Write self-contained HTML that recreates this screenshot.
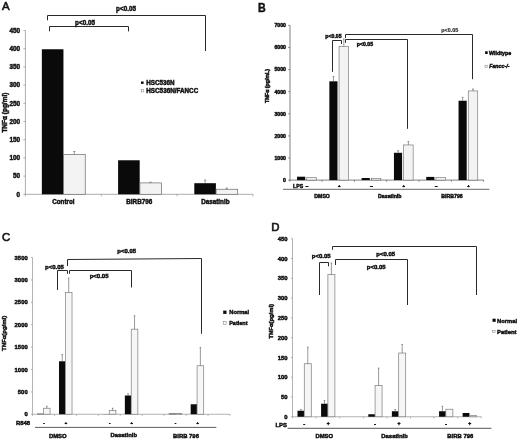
<!DOCTYPE html>
<html><head><meta charset="utf-8"><title>Figure</title>
<style>
html,body{margin:0;padding:0;background:#fff;}
svg{display:block;}
text{font-family:"Liberation Sans",Arial,sans-serif;stroke:#111;stroke-width:0.45px;}
</style></head><body>
<svg width="520" height="440" viewBox="0 0 520 440">
<rect x="0" y="0" width="520" height="440" fill="#fff"/>
<text x="2.00" y="10.30" font-size="11.4" text-anchor="start" font-weight="normal" style="stroke-width:0.6px" fill="#111">A</text>
<line x1="25.40" y1="30.50" x2="25.40" y2="194.30" stroke="#999999" stroke-width="0.8"/>
<line x1="23.40" y1="194.30" x2="25.40" y2="194.30" stroke="#999999" stroke-width="0.8"/>
<text x="20.10" y="196.50" font-size="6.3" text-anchor="end" font-weight="bold" textLength="3.5" lengthAdjust="spacingAndGlyphs" fill="#111">0</text>
<line x1="23.40" y1="176.10" x2="25.40" y2="176.10" stroke="#999999" stroke-width="0.8"/>
<text x="20.10" y="178.30" font-size="6.3" text-anchor="end" font-weight="bold" textLength="7.1" lengthAdjust="spacingAndGlyphs" fill="#111">50</text>
<line x1="23.40" y1="157.90" x2="25.40" y2="157.90" stroke="#999999" stroke-width="0.8"/>
<text x="20.10" y="160.10" font-size="6.3" text-anchor="end" font-weight="bold" textLength="10.7" lengthAdjust="spacingAndGlyphs" fill="#111">100</text>
<line x1="23.40" y1="139.70" x2="25.40" y2="139.70" stroke="#999999" stroke-width="0.8"/>
<text x="20.10" y="141.90" font-size="6.3" text-anchor="end" font-weight="bold" textLength="10.7" lengthAdjust="spacingAndGlyphs" fill="#111">150</text>
<line x1="23.40" y1="121.50" x2="25.40" y2="121.50" stroke="#999999" stroke-width="0.8"/>
<text x="20.10" y="123.70" font-size="6.3" text-anchor="end" font-weight="bold" textLength="10.7" lengthAdjust="spacingAndGlyphs" fill="#111">200</text>
<line x1="23.40" y1="103.30" x2="25.40" y2="103.30" stroke="#999999" stroke-width="0.8"/>
<text x="20.10" y="105.50" font-size="6.3" text-anchor="end" font-weight="bold" textLength="10.7" lengthAdjust="spacingAndGlyphs" fill="#111">250</text>
<line x1="23.40" y1="85.10" x2="25.40" y2="85.10" stroke="#999999" stroke-width="0.8"/>
<text x="20.10" y="87.30" font-size="6.3" text-anchor="end" font-weight="bold" textLength="10.7" lengthAdjust="spacingAndGlyphs" fill="#111">300</text>
<line x1="23.40" y1="66.90" x2="25.40" y2="66.90" stroke="#999999" stroke-width="0.8"/>
<text x="20.10" y="69.10" font-size="6.3" text-anchor="end" font-weight="bold" textLength="10.7" lengthAdjust="spacingAndGlyphs" fill="#111">350</text>
<line x1="23.40" y1="48.70" x2="25.40" y2="48.70" stroke="#999999" stroke-width="0.8"/>
<text x="20.10" y="50.90" font-size="6.3" text-anchor="end" font-weight="bold" textLength="10.7" lengthAdjust="spacingAndGlyphs" fill="#111">400</text>
<line x1="23.40" y1="30.50" x2="25.40" y2="30.50" stroke="#999999" stroke-width="0.8"/>
<text x="20.10" y="32.70" font-size="6.3" text-anchor="end" font-weight="bold" textLength="10.7" lengthAdjust="spacingAndGlyphs" fill="#111">450</text>
<line x1="25.40" y1="194.30" x2="253.00" y2="194.30" stroke="#999999" stroke-width="0.8"/>
<line x1="25.40" y1="194.30" x2="25.40" y2="196.30" stroke="#999999" stroke-width="0.8"/>
<line x1="101.27" y1="194.30" x2="101.27" y2="196.30" stroke="#999999" stroke-width="0.8"/>
<line x1="177.13" y1="194.30" x2="177.13" y2="196.30" stroke="#999999" stroke-width="0.8"/>
<line x1="253.00" y1="194.30" x2="253.00" y2="196.30" stroke="#999999" stroke-width="0.8"/>
<rect x="41.85" y="49.25" width="21.60" height="145.05" fill="#0a0a0a"/>
<rect x="63.65" y="154.41" width="21.60" height="39.89" fill="#f3f3f3" stroke="#6a6a6a" stroke-width="0.7"/>
<line x1="74.25" y1="154.41" x2="74.25" y2="151.53" stroke="#555" stroke-width="0.6"/>
<line x1="73.05" y1="151.53" x2="75.45" y2="151.53" stroke="#555" stroke-width="0.6"/>
<text x="63.35" y="204.20" font-size="6.3" text-anchor="middle" font-weight="bold" fill="#111">Control</text>
<rect x="118.10" y="160.27" width="21.60" height="34.03" fill="#0a0a0a"/>
<rect x="139.90" y="182.91" width="21.60" height="11.39" fill="#f3f3f3" stroke="#6a6a6a" stroke-width="0.7"/>
<line x1="150.50" y1="182.91" x2="150.50" y2="182.29" stroke="#555" stroke-width="0.6"/>
<line x1="149.30" y1="182.29" x2="151.70" y2="182.29" stroke="#555" stroke-width="0.6"/>
<text x="139.25" y="204.20" font-size="6.3" text-anchor="middle" font-weight="bold" fill="#111">BIRB796</text>
<rect x="194.30" y="183.20" width="21.60" height="11.10" fill="#0a0a0a"/>
<line x1="205.10" y1="183.20" x2="205.10" y2="180.10" stroke="#555" stroke-width="0.6"/>
<line x1="203.90" y1="180.10" x2="206.30" y2="180.10" stroke="#555" stroke-width="0.6"/>
<rect x="216.10" y="189.24" width="21.60" height="5.06" fill="#f3f3f3" stroke="#6a6a6a" stroke-width="0.7"/>
<line x1="226.70" y1="189.24" x2="226.70" y2="188.11" stroke="#555" stroke-width="0.6"/>
<line x1="225.50" y1="188.11" x2="227.90" y2="188.11" stroke="#555" stroke-width="0.6"/>
<text x="215.40" y="204.20" font-size="6.3" text-anchor="middle" font-weight="bold" fill="#111">Dasatinib</text>
<path d="M47.50 20.30 L47.50 15.50 L205.50 15.50 L205.50 51.00" fill="none" stroke="#2a2a2a" stroke-width="1.0"/>
<path d="M49.50 31.30 L49.50 26.50 L128.50 26.50 L128.50 31.40" fill="none" stroke="#2a2a2a" stroke-width="1.0"/>
<text x="126.00" y="10.60" font-size="6.3" text-anchor="middle" font-weight="bold" fill="#111">p&lt;0.05</text>
<text x="85.00" y="24.50" font-size="6.3" text-anchor="middle" font-weight="bold" fill="#111">p&lt;0.05</text>
<rect x="141.00" y="81.50" width="2.60" height="2.40" fill="#0a0a0a"/>
<text x="146.30" y="84.60" font-size="6.3" text-anchor="start" font-weight="bold" textLength="28.3" lengthAdjust="spacingAndGlyphs" fill="#111">HSC536N</text>
<rect x="141.20" y="89.60" width="2.40" height="2.40" fill="#fff" stroke="#777" stroke-width="0.5"/>
<text x="146.30" y="92.60" font-size="6.3" text-anchor="start" font-weight="bold" textLength="51.9" lengthAdjust="spacingAndGlyphs" fill="#111">HSC536N/FANCC</text>
<text x="6.60" y="112.60" font-size="6.4" text-anchor="middle" font-weight="bold" transform="rotate(-90 6.60 112.60)" textLength="40" lengthAdjust="spacingAndGlyphs" fill="#111">TNFα (pg/ml)</text>
<text x="258.00" y="11.80" font-size="12.0" text-anchor="start" font-weight="bold" textLength="7.7" lengthAdjust="spacingAndGlyphs" fill="#111">B</text>
<line x1="290.00" y1="25.40" x2="290.00" y2="180.10" stroke="#606060" stroke-width="0.8"/>
<line x1="288.20" y1="180.10" x2="289.80" y2="180.10" stroke="#606060" stroke-width="0.8"/>
<text x="286.00" y="181.90" font-size="5.2" text-anchor="end" font-weight="bold" fill="#111">0</text>
<line x1="288.20" y1="158.00" x2="289.80" y2="158.00" stroke="#606060" stroke-width="0.8"/>
<text x="286.00" y="159.80" font-size="5.2" text-anchor="end" font-weight="bold" fill="#111">1000</text>
<line x1="288.20" y1="135.90" x2="289.80" y2="135.90" stroke="#606060" stroke-width="0.8"/>
<text x="286.00" y="137.70" font-size="5.2" text-anchor="end" font-weight="bold" fill="#111">2000</text>
<line x1="288.20" y1="113.80" x2="289.80" y2="113.80" stroke="#606060" stroke-width="0.8"/>
<text x="286.00" y="115.60" font-size="5.2" text-anchor="end" font-weight="bold" fill="#111">3000</text>
<line x1="288.20" y1="91.70" x2="289.80" y2="91.70" stroke="#606060" stroke-width="0.8"/>
<text x="286.00" y="93.50" font-size="5.2" text-anchor="end" font-weight="bold" fill="#111">4000</text>
<line x1="288.20" y1="69.60" x2="289.80" y2="69.60" stroke="#606060" stroke-width="0.8"/>
<text x="286.00" y="71.40" font-size="5.2" text-anchor="end" font-weight="bold" fill="#111">5000</text>
<line x1="288.20" y1="47.50" x2="289.80" y2="47.50" stroke="#606060" stroke-width="0.8"/>
<text x="286.00" y="49.30" font-size="5.2" text-anchor="end" font-weight="bold" fill="#111">6000</text>
<line x1="288.20" y1="25.40" x2="289.80" y2="25.40" stroke="#606060" stroke-width="0.8"/>
<text x="286.00" y="27.20" font-size="5.2" text-anchor="end" font-weight="bold" fill="#111">7000</text>
<line x1="289.80" y1="180.10" x2="483.60" y2="180.10" stroke="#606060" stroke-width="0.8"/>
<line x1="289.80" y1="180.10" x2="289.80" y2="181.70" stroke="#606060" stroke-width="0.8"/>
<line x1="322.10" y1="180.10" x2="322.10" y2="181.70" stroke="#606060" stroke-width="0.8"/>
<line x1="354.40" y1="180.10" x2="354.40" y2="181.70" stroke="#606060" stroke-width="0.8"/>
<line x1="386.70" y1="180.10" x2="386.70" y2="181.70" stroke="#606060" stroke-width="0.8"/>
<line x1="419.00" y1="180.10" x2="419.00" y2="181.70" stroke="#606060" stroke-width="0.8"/>
<line x1="451.30" y1="180.10" x2="451.30" y2="181.70" stroke="#606060" stroke-width="0.8"/>
<line x1="483.60" y1="180.10" x2="483.60" y2="181.70" stroke="#606060" stroke-width="0.8"/>
<rect x="297.05" y="176.70" width="8.15" height="3.40" fill="#0a0a0a"/>
<rect x="306.75" y="177.49" width="9.50" height="2.61" fill="#f3f3f3" stroke="#6a6a6a" stroke-width="0.6"/>
<text x="306.95" y="187.80" font-size="5.2" text-anchor="middle" font-weight="bold" fill="#111">–</text>
<rect x="329.35" y="81.31" width="8.15" height="98.79" fill="#0a0a0a"/>
<line x1="333.45" y1="81.31" x2="333.45" y2="76.61" stroke="#555" stroke-width="0.6"/>
<line x1="332.55" y1="76.61" x2="334.35" y2="76.61" stroke="#555" stroke-width="0.6"/>
<rect x="339.05" y="46.68" width="9.50" height="133.42" fill="#f3f3f3" stroke="#6a6a6a" stroke-width="0.6"/>
<line x1="343.80" y1="46.68" x2="343.80" y2="38.97" stroke="#555" stroke-width="0.6"/>
<line x1="342.90" y1="38.97" x2="344.70" y2="38.97" stroke="#555" stroke-width="0.6"/>
<text x="339.25" y="187.10" font-size="4.2" text-anchor="middle" font-weight="bold" fill="#111">+</text>
<rect x="361.65" y="178.00" width="8.15" height="2.10" fill="#0a0a0a"/>
<rect x="371.35" y="178.51" width="9.50" height="1.59" fill="#f3f3f3" stroke="#6a6a6a" stroke-width="0.6"/>
<text x="371.55" y="187.80" font-size="5.2" text-anchor="middle" font-weight="bold" fill="#111">–</text>
<rect x="393.95" y="152.78" width="8.15" height="27.32" fill="#0a0a0a"/>
<line x1="398.05" y1="152.78" x2="398.05" y2="150.68" stroke="#555" stroke-width="0.6"/>
<line x1="397.15" y1="150.68" x2="398.95" y2="150.68" stroke="#555" stroke-width="0.6"/>
<rect x="403.65" y="144.96" width="9.50" height="35.14" fill="#f3f3f3" stroke="#6a6a6a" stroke-width="0.6"/>
<line x1="408.40" y1="144.96" x2="408.40" y2="141.56" stroke="#555" stroke-width="0.6"/>
<line x1="407.50" y1="141.56" x2="409.30" y2="141.56" stroke="#555" stroke-width="0.6"/>
<text x="403.85" y="187.10" font-size="4.2" text-anchor="middle" font-weight="bold" fill="#111">+</text>
<rect x="426.25" y="176.90" width="8.15" height="3.20" fill="#0a0a0a"/>
<rect x="435.95" y="177.49" width="9.50" height="2.61" fill="#f3f3f3" stroke="#6a6a6a" stroke-width="0.6"/>
<text x="436.15" y="187.80" font-size="5.2" text-anchor="middle" font-weight="bold" fill="#111">–</text>
<rect x="458.55" y="100.74" width="8.15" height="79.36" fill="#0a0a0a"/>
<line x1="462.65" y1="100.74" x2="462.65" y2="97.34" stroke="#555" stroke-width="0.6"/>
<line x1="461.75" y1="97.34" x2="463.55" y2="97.34" stroke="#555" stroke-width="0.6"/>
<rect x="468.25" y="90.93" width="9.50" height="89.17" fill="#f3f3f3" stroke="#6a6a6a" stroke-width="0.6"/>
<line x1="473.00" y1="90.93" x2="473.00" y2="89.03" stroke="#555" stroke-width="0.6"/>
<line x1="472.10" y1="89.03" x2="473.90" y2="89.03" stroke="#555" stroke-width="0.6"/>
<text x="468.45" y="187.10" font-size="4.2" text-anchor="middle" font-weight="bold" fill="#111">+</text>
<text x="293.10" y="187.80" font-size="5.2" text-anchor="start" font-weight="bold" fill="#111">LPS</text>
<line x1="283.00" y1="189.30" x2="489.40" y2="189.30" stroke="#444" stroke-width="0.8"/>
<text x="322.10" y="197.90" font-size="5.2" text-anchor="middle" font-weight="bold" fill="#111">DMSO</text>
<text x="389.80" y="197.90" font-size="5.2" text-anchor="middle" font-weight="bold" fill="#111">Dasatinib</text>
<text x="452.00" y="197.90" font-size="5.2" text-anchor="middle" font-weight="bold" fill="#111">BIRB796</text>
<path d="M332.50 71.80 L332.50 40.50 L341.50 40.50 L341.50 44.00" fill="none" stroke="#2a2a2a" stroke-width="1.0"/>
<path d="M345.50 38.00 L345.50 34.50 L472.50 34.50 L472.50 79.20" fill="none" stroke="#2a2a2a" stroke-width="1.0"/>
<path d="M345.50 42.80 L345.50 39.50 L407.50 39.50 L407.50 128.80" fill="none" stroke="#2a2a2a" stroke-width="1.0"/>
<text x="333.50" y="37.60" font-size="5.2" text-anchor="middle" font-weight="bold" fill="#111">p&lt;0.05</text>
<text x="365.00" y="46.00" font-size="5.2" text-anchor="middle" font-weight="bold" fill="#111">p&lt;0.05</text>
<text x="449.70" y="32.30" font-size="5.2" text-anchor="middle" font-weight="bold" textLength="17" lengthAdjust="spacingAndGlyphs" style="stroke-width:0.15px" fill="#333">p&lt;0.05</text>
<rect x="485.10" y="51.30" width="2.60" height="2.70" fill="#0a0a0a"/>
<text x="489.00" y="54.90" font-size="5.2" text-anchor="start" font-weight="bold" textLength="22.1" lengthAdjust="spacingAndGlyphs" fill="#111">Wildtype</text>
<rect x="485.00" y="65.20" width="2.40" height="2.30" fill="#fff" stroke="#777" stroke-width="0.5"/>
<text x="489.20" y="67.70" font-size="5.2" text-anchor="start" font-weight="bold" font-style="italic" textLength="20.3" lengthAdjust="spacingAndGlyphs" fill="#111">Fancc-/-</text>
<text x="268.80" y="86.00" font-size="5.0" text-anchor="middle" font-weight="bold" transform="rotate(-90 268.80 86.00)" textLength="34" lengthAdjust="spacingAndGlyphs" fill="#111">TNFα (pg/mL)</text>
<text x="2.00" y="240.70" font-size="11.4" text-anchor="start" font-weight="normal" style="stroke-width:0.6px" fill="#111">C</text>
<line x1="32.50" y1="257.52" x2="32.50" y2="414.25" stroke="#a0a0a0" stroke-width="0.8"/>
<line x1="30.90" y1="414.25" x2="32.50" y2="414.25" stroke="#a0a0a0" stroke-width="0.8"/>
<text x="27.70" y="416.35" font-size="5.9" text-anchor="end" font-weight="bold" fill="#111">0</text>
<line x1="30.90" y1="391.86" x2="32.50" y2="391.86" stroke="#a0a0a0" stroke-width="0.8"/>
<text x="27.70" y="393.96" font-size="5.9" text-anchor="end" font-weight="bold" fill="#111">500</text>
<line x1="30.90" y1="369.47" x2="32.50" y2="369.47" stroke="#a0a0a0" stroke-width="0.8"/>
<text x="27.70" y="371.57" font-size="5.9" text-anchor="end" font-weight="bold" fill="#111">1000</text>
<line x1="30.90" y1="347.08" x2="32.50" y2="347.08" stroke="#a0a0a0" stroke-width="0.8"/>
<text x="27.70" y="349.18" font-size="5.9" text-anchor="end" font-weight="bold" fill="#111">1500</text>
<line x1="30.90" y1="324.69" x2="32.50" y2="324.69" stroke="#a0a0a0" stroke-width="0.8"/>
<text x="27.70" y="326.79" font-size="5.9" text-anchor="end" font-weight="bold" fill="#111">2000</text>
<line x1="30.90" y1="302.30" x2="32.50" y2="302.30" stroke="#a0a0a0" stroke-width="0.8"/>
<text x="27.70" y="304.40" font-size="5.9" text-anchor="end" font-weight="bold" fill="#111">2500</text>
<line x1="30.90" y1="279.91" x2="32.50" y2="279.91" stroke="#a0a0a0" stroke-width="0.8"/>
<text x="27.70" y="282.01" font-size="5.9" text-anchor="end" font-weight="bold" fill="#111">3000</text>
<line x1="30.90" y1="257.52" x2="32.50" y2="257.52" stroke="#a0a0a0" stroke-width="0.8"/>
<text x="27.70" y="259.62" font-size="5.9" text-anchor="end" font-weight="bold" fill="#111">3500</text>
<line x1="32.50" y1="414.25" x2="230.00" y2="414.25" stroke="#a0a0a0" stroke-width="0.8"/>
<line x1="32.50" y1="414.25" x2="32.50" y2="415.85" stroke="#a0a0a0" stroke-width="0.8"/>
<line x1="54.44" y1="414.25" x2="54.44" y2="415.85" stroke="#a0a0a0" stroke-width="0.8"/>
<line x1="76.39" y1="414.25" x2="76.39" y2="415.85" stroke="#a0a0a0" stroke-width="0.8"/>
<line x1="98.33" y1="414.25" x2="98.33" y2="415.85" stroke="#a0a0a0" stroke-width="0.8"/>
<line x1="120.28" y1="414.25" x2="120.28" y2="415.85" stroke="#a0a0a0" stroke-width="0.8"/>
<line x1="142.22" y1="414.25" x2="142.22" y2="415.85" stroke="#a0a0a0" stroke-width="0.8"/>
<line x1="164.17" y1="414.25" x2="164.17" y2="415.85" stroke="#a0a0a0" stroke-width="0.8"/>
<line x1="186.11" y1="414.25" x2="186.11" y2="415.85" stroke="#a0a0a0" stroke-width="0.8"/>
<line x1="208.06" y1="414.25" x2="208.06" y2="415.85" stroke="#a0a0a0" stroke-width="0.8"/>
<line x1="230.00" y1="414.25" x2="230.00" y2="415.85" stroke="#a0a0a0" stroke-width="0.8"/>
<rect x="37.07" y="413.71" width="6.40" height="0.54" fill="#0a0a0a"/>
<rect x="43.47" y="408.25" width="6.60" height="6.00" fill="#f6f6f6" stroke="#858585" stroke-width="0.75"/>
<line x1="46.77" y1="408.25" x2="46.77" y2="406.23" stroke="#555" stroke-width="0.6"/>
<line x1="45.97" y1="406.23" x2="47.57" y2="406.23" stroke="#555" stroke-width="0.6"/>
<text x="43.97" y="424.60" font-size="4.6" text-anchor="middle" font-weight="bold" fill="#111">-</text>
<rect x="59.02" y="361.28" width="6.40" height="52.97" fill="#0a0a0a"/>
<line x1="62.22" y1="361.28" x2="62.22" y2="354.51" stroke="#555" stroke-width="0.6"/>
<line x1="61.42" y1="354.51" x2="63.02" y2="354.51" stroke="#555" stroke-width="0.6"/>
<rect x="65.42" y="292.49" width="6.60" height="121.76" fill="#f6f6f6" stroke="#858585" stroke-width="0.75"/>
<line x1="68.72" y1="292.49" x2="68.72" y2="277.98" stroke="#555" stroke-width="0.6"/>
<line x1="67.92" y1="277.98" x2="69.52" y2="277.98" stroke="#555" stroke-width="0.6"/>
<text x="65.92" y="424.30" font-size="4.0" text-anchor="middle" font-weight="bold" fill="#111">+</text>
<rect x="102.91" y="414.12" width="6.40" height="0.13" fill="#0a0a0a"/>
<rect x="109.31" y="410.49" width="6.60" height="3.76" fill="#f6f6f6" stroke="#858585" stroke-width="0.75"/>
<line x1="112.61" y1="410.49" x2="112.61" y2="408.25" stroke="#555" stroke-width="0.6"/>
<line x1="111.81" y1="408.25" x2="113.41" y2="408.25" stroke="#555" stroke-width="0.6"/>
<text x="109.81" y="424.60" font-size="4.6" text-anchor="middle" font-weight="bold" fill="#111">-</text>
<rect x="124.85" y="395.49" width="6.40" height="18.76" fill="#0a0a0a"/>
<line x1="128.05" y1="395.49" x2="128.05" y2="393.74" stroke="#555" stroke-width="0.6"/>
<line x1="127.25" y1="393.74" x2="128.85" y2="393.74" stroke="#555" stroke-width="0.6"/>
<rect x="131.25" y="329.17" width="6.60" height="85.08" fill="#f6f6f6" stroke="#858585" stroke-width="0.75"/>
<line x1="134.55" y1="329.17" x2="134.55" y2="315.73" stroke="#555" stroke-width="0.6"/>
<line x1="133.75" y1="315.73" x2="135.35" y2="315.73" stroke="#555" stroke-width="0.6"/>
<text x="131.75" y="424.30" font-size="4.0" text-anchor="middle" font-weight="bold" fill="#111">+</text>
<rect x="168.74" y="413.58" width="6.40" height="0.67" fill="#0a0a0a"/>
<rect x="175.14" y="413.35" width="6.60" height="0.90" fill="#f6f6f6" stroke="#858585" stroke-width="0.75"/>
<text x="175.64" y="424.60" font-size="4.6" text-anchor="middle" font-weight="bold" fill="#111">-</text>
<rect x="190.68" y="404.26" width="6.40" height="9.99" fill="#0a0a0a"/>
<rect x="197.08" y="365.75" width="6.60" height="48.50" fill="#f6f6f6" stroke="#858585" stroke-width="0.75"/>
<line x1="200.38" y1="365.75" x2="200.38" y2="347.48" stroke="#555" stroke-width="0.6"/>
<line x1="199.58" y1="347.48" x2="201.18" y2="347.48" stroke="#555" stroke-width="0.6"/>
<text x="197.58" y="424.30" font-size="4.0" text-anchor="middle" font-weight="bold" fill="#111">+</text>
<text x="15.90" y="425.00" font-size="5.9" text-anchor="start" font-weight="bold" fill="#111">R848</text>
<line x1="35.00" y1="427.40" x2="216.30" y2="427.40" stroke="#333" stroke-width="0.8"/>
<text x="57.80" y="437.60" font-size="5.9" text-anchor="middle" font-weight="bold" fill="#111">DMSO</text>
<text x="123.80" y="437.40" font-size="5.9" text-anchor="middle" font-weight="bold" fill="#111">Dasatinib</text>
<text x="186.00" y="437.60" font-size="5.9" text-anchor="middle" font-weight="bold" fill="#111">BIRB 796</text>
<path d="M57.50 290.00 L57.50 270.50 L67.50 270.50 L67.50 273.80" fill="none" stroke="#2a2a2a" stroke-width="1.0"/>
<path d="M67.50 266.00 L67.50 259.50 L201.50 258.50 L201.50 333.80" fill="none" stroke="#2a2a2a" stroke-width="1.0"/>
<path d="M69.50 273.80 L69.50 270.50 L131.50 270.50 L131.50 287.50" fill="none" stroke="#2a2a2a" stroke-width="1.0"/>
<text x="54.50" y="268.60" font-size="6.0" text-anchor="middle" font-weight="bold" fill="#111">p&lt;0.05</text>
<text x="99.10" y="278.10" font-size="6.0" text-anchor="middle" font-weight="bold" fill="#111">p&lt;0.05</text>
<text x="126.80" y="253.10" font-size="6.0" text-anchor="middle" font-weight="bold" fill="#111">p&lt;0.05</text>
<rect x="223.20" y="310.60" width="3.30" height="3.30" fill="#0a0a0a"/>
<text x="229.20" y="313.90" font-size="6.0" text-anchor="start" font-weight="bold" textLength="20" lengthAdjust="spacingAndGlyphs" fill="#111">Normal</text>
<rect x="223.20" y="321.40" width="2.90" height="2.80" fill="#fff" stroke="#777" stroke-width="0.5"/>
<text x="229.20" y="324.70" font-size="6.0" text-anchor="start" font-weight="bold" textLength="18.4" lengthAdjust="spacingAndGlyphs" fill="#111">Patient</text>
<text x="6.40" y="333.40" font-size="5.9" text-anchor="middle" font-weight="bold" transform="rotate(-90 6.40 333.40)" textLength="35.2" lengthAdjust="spacingAndGlyphs" fill="#111">TNFα(pg/ml)</text>
<text x="271.30" y="231.10" font-size="11.4" text-anchor="start" font-weight="normal" style="stroke-width:0.6px" fill="#111">D</text>
<line x1="292.50" y1="238.73" x2="292.50" y2="416.75" stroke="#a0a0a0" stroke-width="0.8"/>
<line x1="290.90" y1="416.75" x2="292.50" y2="416.75" stroke="#a0a0a0" stroke-width="0.8"/>
<text x="287.60" y="418.85" font-size="5.9" text-anchor="end" font-weight="bold" fill="#111">0</text>
<line x1="290.90" y1="396.97" x2="292.50" y2="396.97" stroke="#a0a0a0" stroke-width="0.8"/>
<text x="287.60" y="399.07" font-size="5.9" text-anchor="end" font-weight="bold" fill="#111">50</text>
<line x1="290.90" y1="377.19" x2="292.50" y2="377.19" stroke="#a0a0a0" stroke-width="0.8"/>
<text x="287.60" y="379.29" font-size="5.9" text-anchor="end" font-weight="bold" fill="#111">100</text>
<line x1="290.90" y1="357.41" x2="292.50" y2="357.41" stroke="#a0a0a0" stroke-width="0.8"/>
<text x="287.60" y="359.51" font-size="5.9" text-anchor="end" font-weight="bold" fill="#111">150</text>
<line x1="290.90" y1="337.63" x2="292.50" y2="337.63" stroke="#a0a0a0" stroke-width="0.8"/>
<text x="287.60" y="339.73" font-size="5.9" text-anchor="end" font-weight="bold" fill="#111">200</text>
<line x1="290.90" y1="317.85" x2="292.50" y2="317.85" stroke="#a0a0a0" stroke-width="0.8"/>
<text x="287.60" y="319.95" font-size="5.9" text-anchor="end" font-weight="bold" fill="#111">250</text>
<line x1="290.90" y1="298.07" x2="292.50" y2="298.07" stroke="#a0a0a0" stroke-width="0.8"/>
<text x="287.60" y="300.17" font-size="5.9" text-anchor="end" font-weight="bold" fill="#111">300</text>
<line x1="290.90" y1="278.29" x2="292.50" y2="278.29" stroke="#a0a0a0" stroke-width="0.8"/>
<text x="287.60" y="280.39" font-size="5.9" text-anchor="end" font-weight="bold" fill="#111">350</text>
<line x1="290.90" y1="258.51" x2="292.50" y2="258.51" stroke="#a0a0a0" stroke-width="0.8"/>
<text x="287.60" y="260.61" font-size="5.9" text-anchor="end" font-weight="bold" fill="#111">400</text>
<line x1="290.90" y1="238.73" x2="292.50" y2="238.73" stroke="#a0a0a0" stroke-width="0.8"/>
<text x="287.60" y="240.83" font-size="5.9" text-anchor="end" font-weight="bold" fill="#111">450</text>
<line x1="292.50" y1="416.75" x2="481.25" y2="416.75" stroke="#a0a0a0" stroke-width="0.8"/>
<line x1="292.50" y1="416.75" x2="292.50" y2="418.35" stroke="#a0a0a0" stroke-width="0.8"/>
<line x1="316.09" y1="416.75" x2="316.09" y2="418.35" stroke="#a0a0a0" stroke-width="0.8"/>
<line x1="339.69" y1="416.75" x2="339.69" y2="418.35" stroke="#a0a0a0" stroke-width="0.8"/>
<line x1="363.28" y1="416.75" x2="363.28" y2="418.35" stroke="#a0a0a0" stroke-width="0.8"/>
<line x1="386.88" y1="416.75" x2="386.88" y2="418.35" stroke="#a0a0a0" stroke-width="0.8"/>
<line x1="410.47" y1="416.75" x2="410.47" y2="418.35" stroke="#a0a0a0" stroke-width="0.8"/>
<line x1="434.06" y1="416.75" x2="434.06" y2="418.35" stroke="#a0a0a0" stroke-width="0.8"/>
<line x1="457.66" y1="416.75" x2="457.66" y2="418.35" stroke="#a0a0a0" stroke-width="0.8"/>
<line x1="481.25" y1="416.75" x2="481.25" y2="418.35" stroke="#a0a0a0" stroke-width="0.8"/>
<rect x="297.50" y="410.74" width="6.80" height="6.01" fill="#0a0a0a"/>
<line x1="300.90" y1="410.74" x2="300.90" y2="409.51" stroke="#555" stroke-width="0.6"/>
<line x1="300.10" y1="409.51" x2="301.70" y2="409.51" stroke="#555" stroke-width="0.6"/>
<rect x="304.30" y="363.74" width="7.00" height="53.01" fill="#f6f6f6" stroke="#858585" stroke-width="0.75"/>
<line x1="307.80" y1="363.74" x2="307.80" y2="347.12" stroke="#555" stroke-width="0.6"/>
<line x1="307.00" y1="347.12" x2="308.60" y2="347.12" stroke="#555" stroke-width="0.6"/>
<text x="304.30" y="426.40" font-size="5.9" text-anchor="middle" font-weight="bold" fill="#111">-</text>
<rect x="321.09" y="403.73" width="6.80" height="13.02" fill="#0a0a0a"/>
<line x1="324.49" y1="403.73" x2="324.49" y2="400.53" stroke="#555" stroke-width="0.6"/>
<line x1="323.69" y1="400.53" x2="325.29" y2="400.53" stroke="#555" stroke-width="0.6"/>
<rect x="327.89" y="274.49" width="7.00" height="142.26" fill="#f6f6f6" stroke="#858585" stroke-width="0.75"/>
<line x1="331.39" y1="274.49" x2="331.39" y2="263.02" stroke="#555" stroke-width="0.6"/>
<line x1="330.59" y1="263.02" x2="332.19" y2="263.02" stroke="#555" stroke-width="0.6"/>
<text x="328.09" y="425.30" font-size="5.0" text-anchor="middle" font-weight="bold" fill="#111">+</text>
<rect x="368.28" y="414.26" width="6.80" height="2.49" fill="#0a0a0a"/>
<rect x="375.08" y="385.50" width="7.00" height="31.25" fill="#f6f6f6" stroke="#858585" stroke-width="0.75"/>
<line x1="378.58" y1="385.50" x2="378.58" y2="368.09" stroke="#555" stroke-width="0.6"/>
<line x1="377.78" y1="368.09" x2="379.38" y2="368.09" stroke="#555" stroke-width="0.6"/>
<text x="375.08" y="426.40" font-size="5.9" text-anchor="middle" font-weight="bold" fill="#111">-</text>
<rect x="391.87" y="411.25" width="6.80" height="5.50" fill="#0a0a0a"/>
<line x1="395.27" y1="411.25" x2="395.27" y2="409.51" stroke="#555" stroke-width="0.6"/>
<line x1="394.47" y1="409.51" x2="396.07" y2="409.51" stroke="#555" stroke-width="0.6"/>
<rect x="398.67" y="353.06" width="7.00" height="63.69" fill="#f6f6f6" stroke="#858585" stroke-width="0.75"/>
<line x1="402.17" y1="353.06" x2="402.17" y2="344.51" stroke="#555" stroke-width="0.6"/>
<line x1="401.37" y1="344.51" x2="402.97" y2="344.51" stroke="#555" stroke-width="0.6"/>
<text x="398.87" y="425.30" font-size="5.0" text-anchor="middle" font-weight="bold" fill="#111">+</text>
<rect x="439.06" y="411.25" width="6.80" height="5.50" fill="#0a0a0a"/>
<line x1="442.46" y1="411.25" x2="442.46" y2="406.27" stroke="#555" stroke-width="0.6"/>
<line x1="441.66" y1="406.27" x2="443.26" y2="406.27" stroke="#555" stroke-width="0.6"/>
<rect x="445.86" y="409.23" width="7.00" height="7.52" fill="#f6f6f6" stroke="#858585" stroke-width="0.75"/>
<text x="445.86" y="426.40" font-size="5.9" text-anchor="middle" font-weight="bold" fill="#111">-</text>
<rect x="462.65" y="412.99" width="6.80" height="3.76" fill="#0a0a0a"/>
<rect x="469.45" y="415.48" width="7.00" height="1.27" fill="#f6f6f6" stroke="#858585" stroke-width="0.75"/>
<text x="469.65" y="425.30" font-size="5.0" text-anchor="middle" font-weight="bold" fill="#111">+</text>
<text x="275.50" y="427.20" font-size="5.9" text-anchor="start" font-weight="bold" fill="#111">LPS</text>
<line x1="287.50" y1="428.30" x2="491.30" y2="428.30" stroke="#444" stroke-width="0.9"/>
<text x="324.30" y="438.20" font-size="5.9" text-anchor="middle" font-weight="bold" fill="#111">DMSO</text>
<text x="394.60" y="437.80" font-size="5.9" text-anchor="middle" font-weight="bold" fill="#111">Dasatinib</text>
<text x="460.30" y="438.20" font-size="5.9" text-anchor="middle" font-weight="bold" fill="#111">BIRB 796</text>
<path d="M319.50 295.00 L319.50 262.50 L328.50 262.50 L328.50 266.30" fill="none" stroke="#2a2a2a" stroke-width="1.0"/>
<path d="M332.50 249.80 L332.50 246.50 L476.50 246.50 L476.50 295.00" fill="none" stroke="#2a2a2a" stroke-width="1.0"/>
<path d="M335.50 265.00 L335.50 259.50 L407.50 259.50 L407.50 305.00" fill="none" stroke="#2a2a2a" stroke-width="1.0"/>
<text x="321.30" y="258.20" font-size="6.0" text-anchor="middle" font-weight="bold" fill="#111">p&lt;0.05</text>
<text x="376.30" y="269.20" font-size="6.0" text-anchor="middle" font-weight="bold" fill="#111">p&lt;0.05</text>
<text x="385.80" y="255.60" font-size="6.0" text-anchor="middle" font-weight="bold" fill="#111">p&lt;0.05</text>
<rect x="492.50" y="318.70" width="3.20" height="3.10" fill="#0a0a0a"/>
<text x="497.00" y="322.80" font-size="6.0" text-anchor="start" font-weight="bold" textLength="20" lengthAdjust="spacingAndGlyphs" fill="#111">Normal</text>
<rect x="492.60" y="330.30" width="2.50" height="2.40" fill="#fff" stroke="#777" stroke-width="0.5"/>
<text x="497.00" y="333.90" font-size="6.0" text-anchor="start" font-weight="bold" textLength="19.5" lengthAdjust="spacingAndGlyphs" fill="#111">Patient</text>
<text x="273.40" y="321.20" font-size="5.5" text-anchor="middle" font-weight="bold" transform="rotate(-90 273.40 321.20)" textLength="34.5" lengthAdjust="spacingAndGlyphs" fill="#111">TNFα(pg/ml)</text>
</svg>
</body></html>
